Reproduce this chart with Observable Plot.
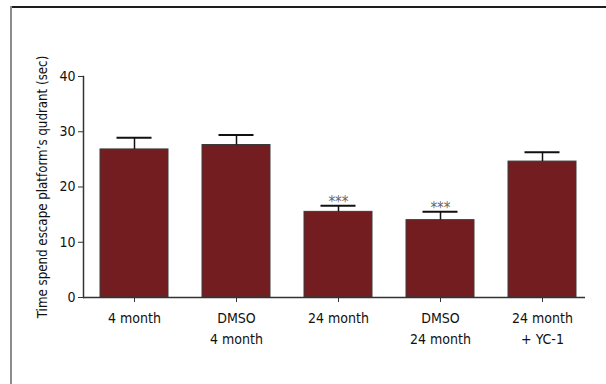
<!DOCTYPE html>
<html>
<head>
<meta charset="utf-8">
<script src="https://cdn.jsdelivr.net/npm/d3@7"></script>
<script src="https://cdn.jsdelivr.net/npm/@observablehq/plot@0.6"></script>
<style>
  html, body { margin: 0; padding: 0; background: #fff; }
  #wrap { position: relative; width: 606px; height: 384px; overflow: hidden; }
  #wrap svg { position: absolute; left: 0; top: 0; }
  .lineTop { position: absolute; left: 11px; top: 6px; width: 600px; height: 2px; background: #1e1e1e; }
  .lineLeft { position: absolute; left: 10px; top: 6px; width: 2px; height: 400px; background: #8c8c8c; }
</style>
</head>
<body>
<div id="wrap"><div class="lineTop"></div><div class="lineLeft"></div></div>
<script>
const categories = ["4 month", "DMSO\n4 month", "24 month", "DMSO\n24 month", "24 month\n+ YC-1"];
const means = [26.8, 27.6, 15.5, 14.0, 24.6];
const errors = [2.1, 1.8, 1.1, 1.5, 1.7];
const significance = ["", "", "***", "***", ""];
const yTicks = [0, 10, 20, 30, 40];
const yLabel = "Time spend escape platform’s qudrant (sec)";

const data = categories.map((c, i) => ({
  cat: c, mean: means[i], hi: means[i] + errors[i], sig: significance[i]
}));

const font = "'DejaVu Sans Condensed', 'DejaVu Sans', sans-serif";

const chart = Plot.plot({
  width: 606,
  height: 384,
  marginLeft: 83,
  marginRight: 21,
  marginTop: 76,
  marginBottom: 87,
  style: { fontFamily: font, fontSize: "14px", color: "#111", background: "transparent", fontStretch: "condensed" },
  x: { domain: categories, paddingInner: 0.333, paddingOuter: 0.127, align: 0.64, label: null },
  y: { domain: [0, 40], ticks: yTicks, label: null },
  marks: [
    Plot.barY(data, { x: "cat", y: "mean", fill: "#741d21", stroke: "#3a3a3a", strokeWidth: 1 }),
    Plot.ruleX(data, { x: "cat", y1: "mean", y2: "hi", stroke: "#111", strokeWidth: 1.5 }),
    Plot.tickY(data, { x: "cat", y: "hi", stroke: "#111", strokeWidth: 2, insetLeft: 16.5, insetRight: 16.5 }),
    Plot.text(data, { x: "cat", y: "hi", text: "sig", lineAnchor: "bottom", dy: 1, fill: "#666", fontSize: 15 }),
    Plot.ruleY([0], { stroke: "#333", strokeWidth: 1.5 }),
    Plot.frame({ anchor: "left", stroke: "#333", strokeWidth: 1.5 }),
    Plot.axisY({ ticks: yTicks, tickSize: 5, tickPadding: 3, stroke: "#333", fill: "#111", fontSize: 14, label: null }),
    Plot.axisY({ ticks: [], tickSize: 0, fill: "#111", fontSize: 13.2,
      label: yLabel, labelAnchor: "center", labelOffset: 46, labelArrow: "none" }),
    Plot.axisX({ tickSize: 5, tickPadding: 6, stroke: "#333", fill: "#111", fontSize: 14, lineHeight: 1.5, label: null })
  ]
});
document.getElementById("wrap").appendChild(chart);
</script>
</body>
</html>
